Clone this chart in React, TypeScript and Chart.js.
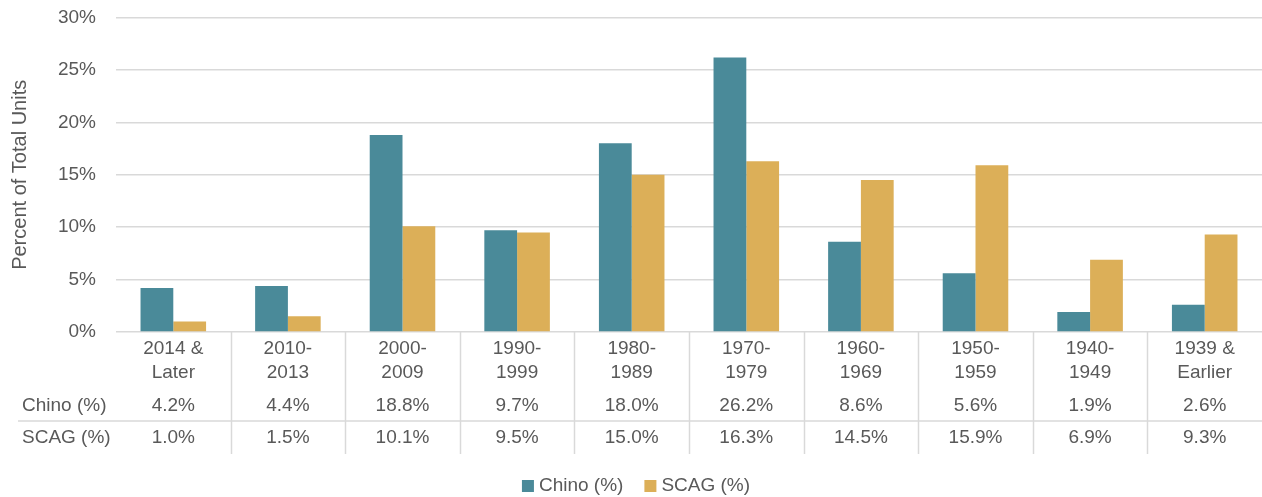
import React, { useEffect, useRef } from "react";
import { Chart, registerables } from "chart.js";

Chart.register(...registerables);

const categories: string[][] = [
  ["2014 &", "Later"],
  ["2010-", "2013"],
  ["2000-", "2009"],
  ["1990-", "1999"],
  ["1980-", "1989"],
  ["1970-", "1979"],
  ["1960-", "1969"],
  ["1950-", "1959"],
  ["1940-", "1949"],
  ["1939 &", "Earlier"],
];
const chinoValues = [4.2, 4.4, 18.8, 9.7, 18.0, 26.2, 8.6, 5.6, 1.9, 2.6];
const scagValues = [1.0, 1.5, 10.1, 9.5, 15.0, 16.3, 14.5, 15.9, 6.9, 9.3];
const seriesNames = ["Chino (%)", "SCAG (%)"];
const yTitle = "Percent of Total Units";

const TEAL = "#4A8A99";
const GOLD = "#DCAF58";
const TEXT = "#595959";
const GRID = "#D9D9D9";
const FONT = "'Liberation Sans', Arial, sans-serif";

const tablePlugin = {
  id: "dataTable",
  afterDraw(chart: any) {
    const { ctx, chartArea } = chart;
    const x = chart.scales.x;
    const n = categories.length;
    const step = (chartArea.right - chartArea.left) / n;
    const base = chartArea.bottom;
    ctx.save();
    ctx.strokeStyle = GRID;
    ctx.lineWidth = 1.5;
    ctx.beginPath();
    ctx.moveTo(18, base + 89);
    ctx.lineTo(chartArea.right, base + 89);
    for (let i = 1; i < n; i++) {
      const bx = Math.round(x.getPixelForValue(i) - step / 2) + 0.5;
      ctx.moveTo(bx, base);
      ctx.lineTo(bx, base + 122);
    }
    ctx.stroke();

    ctx.fillStyle = TEXT;
    ctx.font = `19px ${FONT}`;
    ctx.textBaseline = "middle";
    ctx.textAlign = "center";
    for (let i = 0; i < n; i++) {
      const cx = x.getPixelForValue(i);
      const lines = categories[i];
      lines.forEach((ln, j) => ctx.fillText(ln, cx, base + 17 + j * 23.5));
      ctx.fillText(chinoValues[i].toFixed(1) + "%", cx, base + 74);
      ctx.fillText(scagValues[i].toFixed(1) + "%", cx, base + 106);
    }
    ctx.textAlign = "left";
    ctx.fillText(seriesNames[0], 22, base + 74);
    ctx.fillText(seriesNames[1], 22, base + 106);

    ctx.font = `19px ${FONT}`;
    const colors = chart.data.datasets.map((d: any) => d.backgroundColor);
    const box = 12;
    const gap = 5;
    const itemGap = 21;
    const widths = seriesNames.map((s) => box + gap + ctx.measureText(s).width);
    const total = widths.reduce((a, b) => a + b, 0) + itemGap;
    let lx = 636 - total / 2;
    const ly = 486;
    seriesNames.forEach((s, i) => {
      ctx.fillStyle = colors[i];
      ctx.fillRect(lx, ly - box / 2, box, box);
      ctx.fillStyle = TEXT;
      ctx.fillText(s, lx + box + gap, ly);
      lx += widths[i] + itemGap;
    });
    ctx.restore();
  },
};

export default function App() {
  const ref = useRef<HTMLCanvasElement | null>(null);
  useEffect(() => {
    if (!ref.current) return;
    const chart = new Chart(ref.current, {
      type: "bar",
      data: {
        labels: categories,
        datasets: [
          { label: seriesNames[0], data: chinoValues, backgroundColor: TEAL },
          { label: seriesNames[1], data: scagValues, backgroundColor: GOLD },
        ],
      },
      options: {
        responsive: false,
        animation: false,
        devicePixelRatio: 1,
        layout: { padding: { top: 17.6, right: 0, bottom: 165, left: 0 } },
        plugins: { legend: { display: false }, tooltip: { enabled: false } },
        datasets: { bar: { categoryPercentage: 0.572, barPercentage: 1.0 } },
        scales: {
          x: { display: false },
          y: {
            min: 0,
            max: 30,
            ticks: {
              stepSize: 5,
              padding: 0,
              color: TEXT,
              font: { family: FONT, size: 19 },
              callback: (v: any) => v + "%",
            },
            grid: {
              color: GRID,
              lineWidth: 1.5,
              drawTicks: true,
              tickLength: 20,
              tickColor: "rgba(0,0,0,0)",
            },
            border: { display: false },
            title: {
              display: true,
              text: yTitle,
              color: TEXT,
              font: { family: FONT, size: 20 },
              padding: { top: 8, bottom: 0 },
            },
            afterFit: (s: any) => {
              s.width = 116;
            },
          },
        },
      },
      plugins: [tablePlugin],
    });
    return () => chart.destroy();
  }, []);
  return (
    <div style={{ position: "fixed", left: 0, top: 0, width: 1262, height: 497, background: "#fff" }}>
      <canvas ref={ref} width={1262} height={497} />
    </div>
  );
}
